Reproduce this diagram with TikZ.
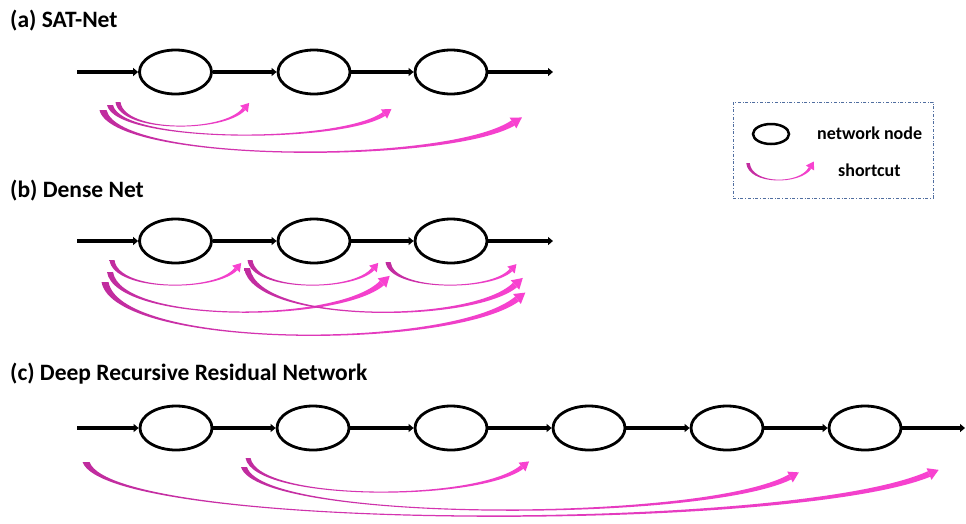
\documentclass[tikz,border=0pt]{standalone}
\usepackage{fontspec}
\setmainfont{Carlito}
\usetikzlibrary{shapes.geometric,arrows.meta,calc}
\definecolor{scA}{RGB}{192,44,158}
\definecolor{scM}{RGB}{253,222,246}
\definecolor{scB}{RGB}{248,66,208}
\definecolor{legblue}{RGB}{80,110,160}
\tikzset{
  netnode/.style={ellipse, draw=black, line width=2.8pt, minimum width=72pt, minimum height=44pt, inner sep=0pt, fill=white},
  flow/.style={line width=3.4pt, -{Triangle[length=5pt,width=8pt]}},
  title/.style={anchor=base west, inner sep=0pt, font=\fontsize{23.5}{26}\selectfont\bfseries},
  legtext/.style={font=\fontsize{18}{21}\selectfont\bfseries, inner sep=0pt, anchor=west},
  legbox/.style={draw=legblue, dash dot, line width=0.9pt, minimum width=200pt, minimum height=96pt, inner sep=0pt}
}
% #1 name, #2 #3 start, #4 #5 end, #6 bottom, #7 start width, #8 end width
\newcommand\shortcut[8]{%
  \pgfmathsetmacro\scLen{#4-#2}%
  \pgfmathsetmacro\scCy{(8*#6-#3-#5)/6}%
  \pgfmathsetmacro\scWs{#7/2}%
  \pgfmathsetmacro\scWe{#8/2}%
  \pgfmathsetmacro\scHw{#8/2+3.3}%
  \pgfmathsetmacro\scHl{#8+4.5}%
  \coordinate (#1s) at (#2,#3);
  \coordinate (#1e) at (#4,#5);
  \coordinate (#1p) at (#2+0.03*\scLen,\scCy);
  \coordinate (#1q) at (#4-0.16*\scLen,\scCy);
  \shade[left color=scA,middle color=scM,right color=scB]
    ($(#1s)+(-\scWs,0)$) .. controls ($(#1p)+(-\scWs,0.4)$) and ($(#1q)+(0,0.4)$) .. ($(#1e)!\scWe pt!90:(#1q)$)
    -- ($(#1e)!\scWe pt!-90:(#1q)$) .. controls ($(#1q)+(0,-0.4)$) and ($(#1p)+(\scWs,-0.4)$) .. ($(#1s)+(\scWs,0)$) -- cycle;
  \fill[scB] ($(#1e)!-\scHl pt!(#1q)$) -- ($(#1e)!\scHw pt!90:(#1q)$) -- ($(#1e)!\scHw pt!-90:(#1q)$) -- cycle;
}
\begin{document}
\begin{tikzpicture}[x=1pt,y=-1pt]
\useasboundingbox[fill=white] (0,0) rectangle (966,523);

% ---------- (a) SAT-Net
\node[title] (ta) at (10,27) {(a) SAT-Net};
\coordinate (a0) at (77,72);
\node[netnode] (a1) at (175.5,72) {};
\node[netnode] (a2) at (314,72) {};
\node[netnode] (a3) at (451,72) {};
\coordinate (a4) at (553,72);
\draw[flow] (a0) -- (a1.west);
\draw[flow] (a1.east) -- (a2.west);
\draw[flow] (a2.east) -- (a3.west);
\draw[flow] (a3.east) -- (a4);
\shortcut{sa1}{118}{102}{244}{109}{126}{5}{3.5}
\shortcut{sa2}{110}{105}{384}{114}{135}{6}{4.5}
\shortcut{sa3}{103}{110}{513}{123}{152}{7}{6}

% ---------- (b) Dense Net
\node[title] (tb) at (10,197) {(b) Dense Net};
\coordinate (b0) at (77,241);
\node[netnode] (b1) at (175.5,241) {};
\node[netnode] (b2) at (314,241) {};
\node[netnode] (b3) at (451,241) {};
\coordinate (b4) at (553,241);
\draw[flow] (b0) -- (b1.west);
\draw[flow] (b1.east) -- (b2.west);
\draw[flow] (b2.east) -- (b3.west);
\draw[flow] (b3.east) -- (b4);
\shortcut{sb1}{112}{260}{236}{269}{285}{5}{3.5}
\shortcut{sb2}{110}{272}{382}{283}{312}{6}{6}
\shortcut{sb3}{105}{282}{517}{299}{335}{7}{6}
\shortcut{sb4}{250}{260}{373}{269}{285}{5}{3.5}
\shortcut{sb5}{247}{268}{515}{285}{312}{6}{6}
\shortcut{sb6}{388}{262}{511}{270}{285}{5}{3.5}

% ---------- (c) Deep Recursive Residual Network
\node[title] (tc) at (10,380) {(c) Deep Recursive Residual Network};
\coordinate (c0) at (77,428);
\node[netnode] (c1) at (176,428) {};
\node[netnode] (c2) at (313,428) {};
\node[netnode] (c3) at (451,428) {};
\node[netnode] (c4) at (589,428) {};
\node[netnode] (c5) at (727,428) {};
\node[netnode] (c6) at (865,428) {};
\coordinate (c7) at (965,428);
\draw[flow] (c0) -- (c1.west);
\draw[flow] (c1.east) -- (c2.west);
\draw[flow] (c2.east) -- (c3.west);
\draw[flow] (c3.east) -- (c4.west);
\draw[flow] (c4.east) -- (c5.west);
\draw[flow] (c5.east) -- (c6.west);
\draw[flow] (c6.east) -- (c7);
\shortcut{sc1}{86}{462}{929}{474}{516}{7}{6}
\shortcut{sc2}{248}{458}{522}{467}{492}{5}{4.5}
\shortcut{sc3}{244}{467}{790}{477}{510}{6}{5.5}

% ---------- legend
\node[legbox] (leg) at (833,150) {};
\node[netnode, minimum width=36pt, minimum height=20pt, line width=2.5pt] (lnode) at (771,134) {};
\node[legtext] (ltxt1) at (817,133) {network node};
\node[legtext] (ltxt2) at (838,170) {shortcut};
\shortcut{ls}{748}{163}{810}{168}{180}{3.5}{3}
\end{tikzpicture}
\end{document}
